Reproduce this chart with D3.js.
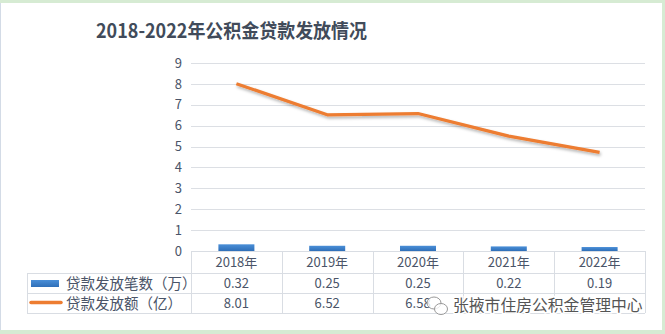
<!DOCTYPE html>
<html><head><meta charset="utf-8">
<script src="https://cdn.jsdelivr.net/npm/d3@7"></script>
<style>
html,body{margin:0;padding:0;background:#fff;}
svg{display:block;}
</style></head>
<body>
<svg id="chart" width="665" height="334"></svg>
<script>
const title = "2018-2022年公积金贷款发放情况";
const categories = ["2018年","2019年","2020年","2021年","2022年"];
const countValues = [0.32,0.25,0.25,0.22,0.19];
const amountValues = [8.01,6.52,6.58,5.5,4.72];
const countLabels = ["0.32","0.25","0.25","0.22","0.19"];
// 2021 and 2022 amount cells are hidden under the watermark in the reference
const amountLabels = ["8.01","6.52","6.58","",""];
const seriesNames = ["贷款发放笔数（万）","贷款发放额（亿）"];
const yTicks = [0,1,2,3,4,5,6,7,8,9];
const watermark = "张掖市住房公积金管理中心";

const svg = d3.select("#chart");
const W = 665, H = 334;
const font = "'Noto Sans CJK SC','Microsoft YaHei',sans-serif";

// frame
svg.append("rect").attr("x",0).attr("y",0).attr("width",W).attr("height",H).attr("fill","#d6ebd3");
svg.append("rect").attr("x",0).attr("y",3).attr("width",662).attr("height",327).attr("fill","#ffffff");
svg.append("line").attr("x1",0.5).attr("x2",0.5).attr("y1",3).attr("y2",330).attr("stroke","#d3dbe6");

const m = {left:191, right:645, top:63, bottom:251};
const x = d3.scaleBand().domain(categories).range([m.left,m.right]).paddingInner(0).paddingOuter(0);
const y = d3.scaleLinear().domain([0,9]).range([m.bottom,m.top]);

// title
svg.append("text").attr("x",96).attr("y",38).attr("fill","#414b5a").attr("font-family",font)
  .attr("font-weight","bold").attr("font-size",19.5)
  .attr("textLength",271).attr("lengthAdjust","spacingAndGlyphs").text(title);

// gridlines
svg.append("g").selectAll("line").data(yTicks.filter(d=>d>0)).join("line")
  .attr("x1",m.left).attr("x2",m.right).attr("y1",d=>Math.round(y(d))+0.5).attr("y2",d=>Math.round(y(d))+0.5)
  .attr("stroke","#dcdfe4").attr("stroke-width",1);

// y axis labels
const yAxis = d3.axisLeft(y).tickValues(yTicks).tickSize(0).tickPadding(0).tickFormat(d3.format("d"));
const ya = svg.append("g").attr("transform",`translate(${m.left-9},0)`).call(yAxis);
ya.select(".domain").remove();
ya.selectAll("text").attr("font-family",font).attr("font-size",13).attr("fill","#4a5468");

// bars
const defs = svg.append("defs");
const grad = defs.append("linearGradient").attr("id","barg").attr("x1",0).attr("x2",0).attr("y1",0).attr("y2",1);
grad.append("stop").attr("offset","0%").attr("stop-color","#4a8fd8");
grad.append("stop").attr("offset","100%").attr("stop-color","#2f6fb8");
const bw = 36;
svg.append("g").selectAll("rect").data(countValues).join("rect")
  .attr("x",(d,i)=>x(categories[i])+x.bandwidth()/2-bw/2)
  .attr("y",d=>y(d)).attr("width",bw).attr("height",d=>m.bottom-y(d))
  .attr("fill","url(#barg)");

// line with shadow
const filt = defs.append("filter").attr("id","sh").attr("x","-10%").attr("y","-10%").attr("width","120%").attr("height","140%");
filt.append("feDropShadow").attr("dx",1).attr("dy",2).attr("stdDeviation",1.5).attr("flood-color","#000").attr("flood-opacity",0.3);
const line = d3.line().x((d,i)=>x(categories[i])+x.bandwidth()/2).y(d=>y(d));
svg.append("path").datum(amountValues).attr("d",line).attr("fill","none")
  .attr("stroke","#ed7d31").attr("stroke-width",3.2).attr("stroke-linejoin","round").attr("filter","url(#sh)");

// data table
const rowY = [251,273,293,313];
const tblLeft = 27;
const gridC = "#d9dde3";
const tg = svg.append("g");
tg.append("line").attr("x1",m.left).attr("x2",m.right).attr("y1",rowY[0]+0.5).attr("y2",rowY[0]+0.5).attr("stroke",gridC);
[1,2,3].forEach(r=>{
  tg.append("line").attr("x1",tblLeft).attr("x2",m.right).attr("y1",rowY[r]+0.5).attr("y2",rowY[r]+0.5).attr("stroke",gridC);
});
const xs = categories.map(c=>x(c)).concat([m.right]);
xs.forEach(v=>{
  tg.append("line").attr("x1",Math.round(v)+0.5).attr("x2",Math.round(v)+0.5).attr("y1",rowY[0]).attr("y2",rowY[3]).attr("stroke",gridC);
});
tg.append("line").attr("x1",tblLeft+0.5).attr("x2",tblLeft+0.5).attr("y1",rowY[1]).attr("y2",rowY[3]).attr("stroke",gridC);

tg.selectAll(".cat").data(categories).join("text")
  .attr("x",d=>x(d)+x.bandwidth()/2).attr("y",(rowY[0]+rowY[1])/2+5)
  .attr("text-anchor","middle").attr("font-family",font).attr("font-size",13).attr("fill","#4a5468").text(d=>d);
tg.selectAll(".cv").data(countLabels).join("text")
  .attr("x",(d,i)=>x(categories[i])+x.bandwidth()/2).attr("y",(rowY[1]+rowY[2])/2+5)
  .attr("text-anchor","middle").attr("font-family",font).attr("font-size",13).attr("fill","#4a5468").text(d=>d);
tg.selectAll(".av").data(amountLabels.filter(d=>d)).join("text")
  .attr("x",(d,i)=>x(categories[i])+x.bandwidth()/2).attr("y",(rowY[2]+rowY[3])/2+5)
  .attr("text-anchor","middle").attr("font-family",font).attr("font-size",13).attr("fill","#4a5468").text(d=>d);

// legend keys
tg.append("rect").attr("x",31).attr("y",280).attr("width",28).attr("height",7).attr("fill","url(#barg)");
tg.append("line").attr("x1",31).attr("x2",61).attr("y1",302.5).attr("y2",302.5).attr("stroke","#ed7d31").attr("stroke-width",3.5).attr("stroke-linecap","round");
tg.selectAll(".sn").data(seriesNames).join("text")
  .attr("x",66).attr("y",(d,i)=>(rowY[i+1]+rowY[i+2])/2+5.5)
  .attr("font-family",font).attr("font-size",14.5).attr("fill","#4a5468").text(d=>d);

// watermark
const wm = svg.append("g");
wm.append("ellipse").attr("cx",434).attr("cy",303).attr("rx",7).attr("ry",6).attr("fill","#fff").attr("fill-opacity",0.8).attr("stroke","#999").attr("stroke-width",1);
wm.append("ellipse").attr("cx",441).attr("cy",309).attr("rx",6.5).attr("ry",5.5).attr("fill","#fff").attr("fill-opacity",0.8).attr("stroke","#999").attr("stroke-width",1);
wm.append("text").attr("x",453).attr("y",311).attr("font-family",font).attr("font-size",15.8)
  .attr("fill","#555").attr("stroke","#fff").attr("stroke-width",3).attr("paint-order","stroke").text(watermark);
</script>
</body></html>
